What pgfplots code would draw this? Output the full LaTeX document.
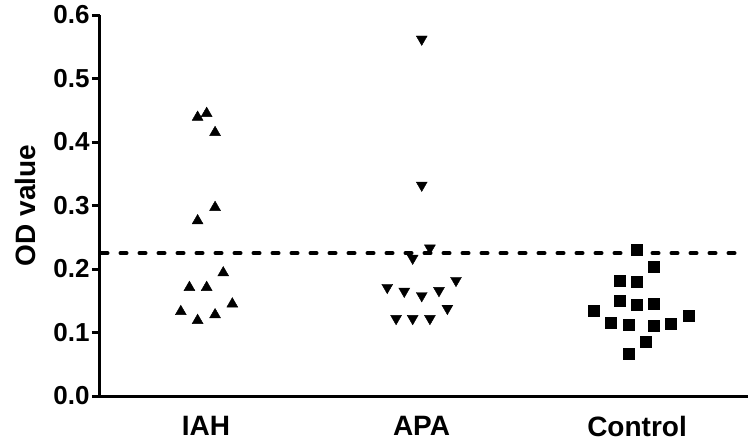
\documentclass[border=0pt]{standalone}
\usepackage{fontspec}
\setmainfont{Liberation Sans}
\usepackage{pgfplots}
\pgfplotsset{compat=1.18}
\usetikzlibrary{calc}

% OD values per group, x jittered around group position
\pgfplotstableread{
x y
0.961 0.439
1.003 0.445
1.042 0.415
1.042 0.297
0.961 0.276
1.080 0.194
0.923 0.171
1.003 0.171
1.122 0.145
0.883 0.133
1.042 0.128
0.961 0.119
}\iah
\pgfplotstableread{
x y
2.001 0.562
2.001 0.332
2.039 0.233
1.959 0.217
2.160 0.182
1.841 0.171
1.920 0.165
2.001 0.158
2.081 0.166
2.120 0.138
1.882 0.122
1.959 0.122
2.039 0.122
}\apa
\pgfplotstableread{
x y
2.999 0.231
3.079 0.203
2.918 0.181
2.999 0.180
2.918 0.150
2.999 0.144
3.079 0.145
2.797 0.135
3.238 0.126
2.878 0.116
2.960 0.112
3.079 0.110
3.158 0.114
3.039 0.085
2.960 0.066
}\control

\begin{document}
\begin{tikzpicture}
\begin{axis}[
    name=ax,
    scale only axis,
    width=648pt, height=381pt,
    xmin=0.508, xmax=3.515,
    ymin=0, ymax=0.6,
    axis x line*=bottom,
    axis y line*=left,
    axis line style={line width=3pt, -},
    xtick={1,2,3},
    xticklabels={IAH,APA,Control},
    x tick style={draw=none},
    ytick={0,0.1,...,0.6},
    y tick style={line width=3pt, black},
    tick align=outside,
    major tick length=8pt,
    yticklabel style={font=\fontsize{26}{26}\selectfont\bfseries, xshift=1pt,
        /pgf/number format/fixed, /pgf/number format/fixed zerofill,
        /pgf/number format/precision=1, /pgf/number format/assume math mode=true},
    xticklabel style={font=\fontsize{28}{28}\selectfont\bfseries, yshift=-9pt},
    ylabel={OD value},
    every axis y label/.style={at={(axis description cs:-0.1157,0.5)}, rotate=90, anchor=center, font=\fontsize{28}{28}\selectfont\bfseries},
    clip=false,
]
\addplot[black, line width=4pt, line cap=round, dash pattern=on 6pt off 13pt]
    coordinates {(0.515,0.225) (3.47,0.225)};
\addplot[only marks, mark=triangle*, mark size=6.3pt, black] table {\iah};
\addplot[only marks, mark=triangle*, mark size=6.3pt, black, mark options={rotate=180}] table {\apa};
\addplot[only marks, mark=square*, mark size=5.5pt, black] table {\control};
\end{axis}
\path ($(ax.south west)+(-100pt,-46pt)$) rectangle ($(ax.north east)+(2pt,15pt)$);
\end{tikzpicture}
\end{document}
